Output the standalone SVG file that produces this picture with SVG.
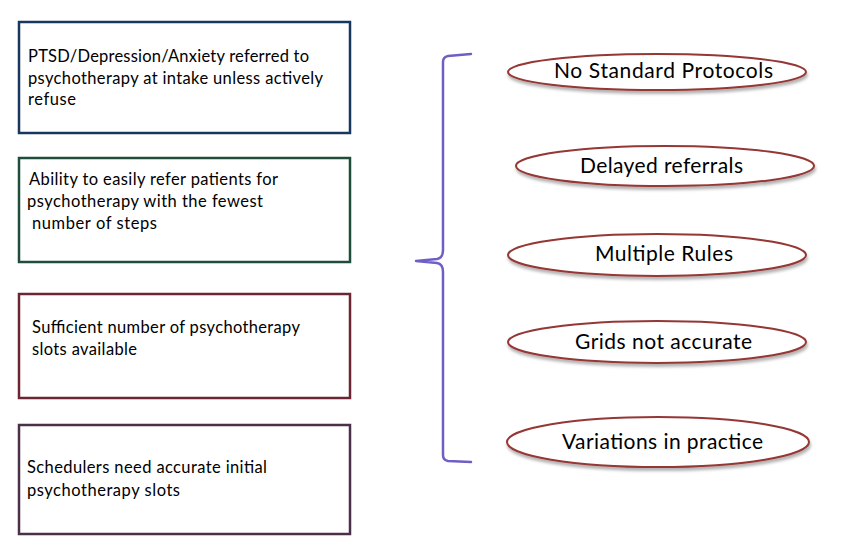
<svg xmlns="http://www.w3.org/2000/svg" width="863" height="557" viewBox="0 0 863 557">
<style>
.box{fill:#fff;stroke-width:2.5}
.lt{font-family:Lato,"Liberation Sans",sans-serif;font-size:16.5px;fill:#000}
.el{fill:#fff;stroke:#953735;stroke-width:2;filter:url(#sh)}
.et{font-family:Lato,"Liberation Sans",sans-serif;font-size:21px;fill:#000}
.brace{fill:none;stroke:#6f5fc4;stroke-width:2.5;stroke-linecap:round;stroke-linejoin:round}
</style>
<defs>
<filter id="sh" x="-10%" y="-40%" width="120%" height="190%">
<feDropShadow dx="1" dy="3" stdDeviation="1.5" flood-color="#000" flood-opacity="0.3"/>
</filter>
</defs>
<rect width="863" height="557" fill="#fff"/>
<g id="box1"><rect class="box" x="19" y="22" width="331" height="111" stroke="#17375e"/>
<text class="lt"><tspan x="28" y="62" textLength="281">PTSD/Depression/Anxiety referred to</tspan><tspan x="28" y="84" textLength="295">psychotherapy at intake unless actively</tspan><tspan x="28" y="105" textLength="48">refuse</tspan></text></g>
<g id="box2"><rect class="box" x="19" y="158" width="331" height="104" stroke="#1e4d3a"/>
<text class="lt"><tspan x="29" y="185" textLength="249">Ability to easily refer patients for</tspan><tspan x="27" y="207" textLength="236">psychotherapy with the fewest</tspan><tspan x="32" y="229" textLength="125">number of steps</tspan></text></g>
<g id="box3"><rect class="box" x="19" y="294" width="331" height="104" stroke="#6b2533"/>
<text class="lt"><tspan x="32" y="333" textLength="268">Sufficient number of psychotherapy</tspan><tspan x="32" y="355" textLength="105">slots available</tspan></text></g>
<g id="box4"><rect class="box" x="19" y="425" width="331" height="109" stroke="#4a3049"/>
<text class="lt"><tspan x="27" y="473" textLength="240">Schedulers need accurate initial</tspan><tspan x="27" y="496" textLength="153">psychotherapy slots</tspan></text></g>
<g id="connectors">
<path class="brace" d="M471,54 L448,56 Q443,57 443,62 L443,250 Q443,258 437,259 L416,261 L437,263 Q443,264 443,272 L443,455 Q443,460 448,461 L471,462"/>
</g>
<g id="e1"><ellipse class="el" cx="657" cy="72" rx="149" ry="18"/><text class="et" x="554" y="78" textLength="219">No Standard Protocols</text></g>
<g id="e2"><ellipse class="el" cx="665" cy="166" rx="149" ry="20"/><text class="et" x="580" y="173" textLength="163">Delayed referrals</text></g>
<g id="e3"><ellipse class="el" cx="657" cy="255" rx="149" ry="21"/><text class="et" x="595" y="261" textLength="138">Multiple Rules</text></g>
<g id="e4"><ellipse class="el" cx="657" cy="342" rx="149" ry="21"/><text class="et" x="575" y="349" textLength="177">Grids not accurate</text></g>
<g id="e5"><ellipse class="el" cx="658" cy="442" rx="151" ry="25"/><text class="et" x="562" y="449" textLength="201">Variations in practice</text></g>
</svg>
